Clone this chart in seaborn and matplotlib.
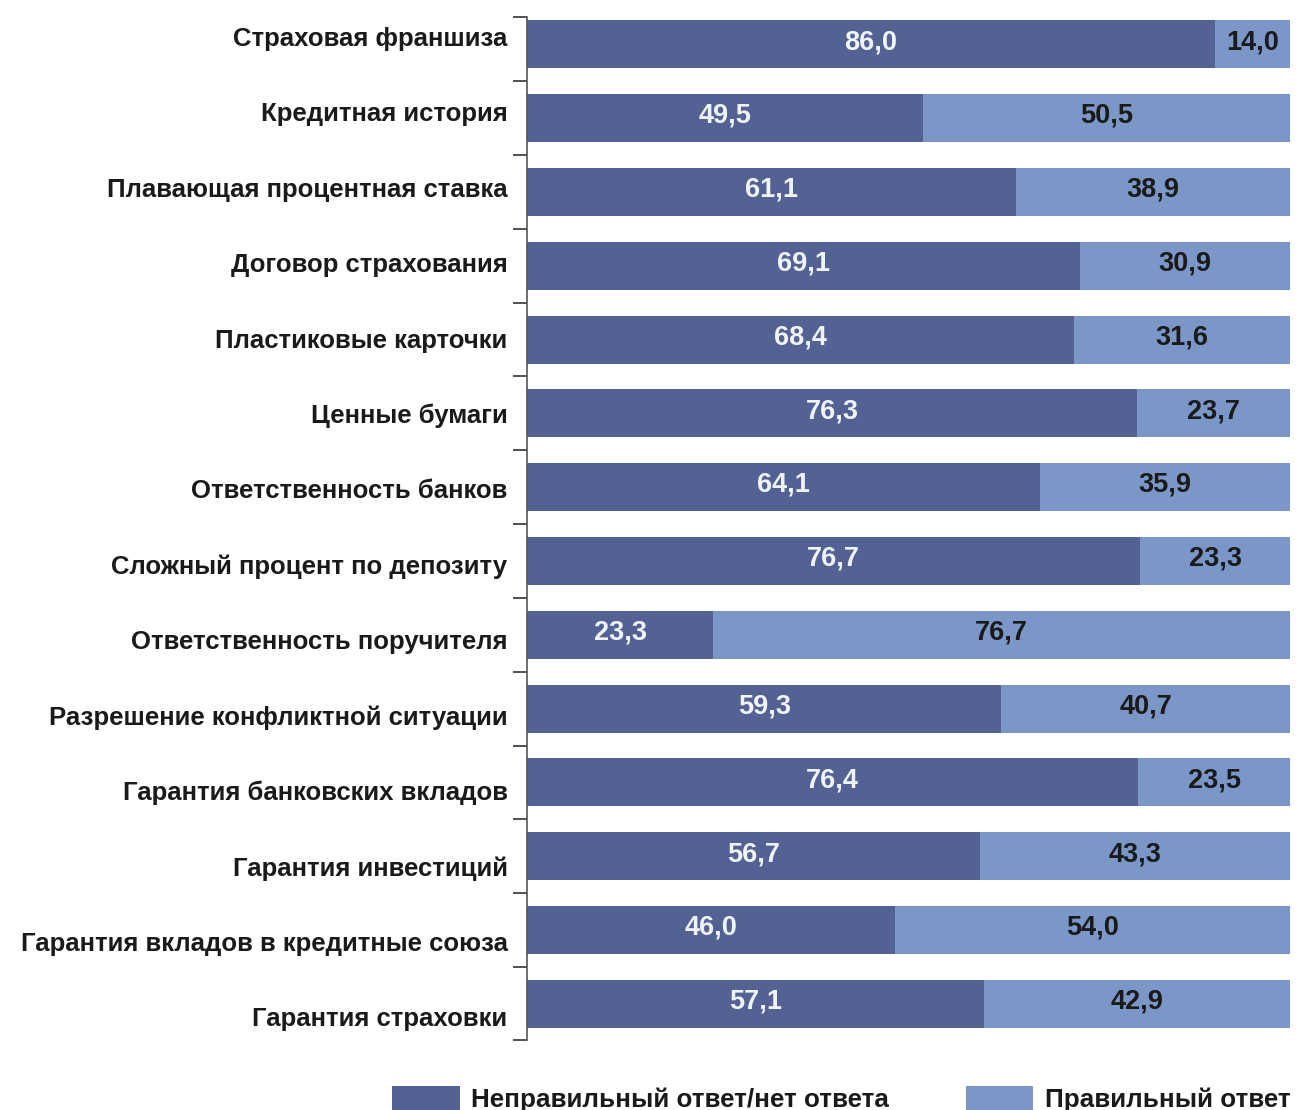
import matplotlib
matplotlib.use("Agg")
import matplotlib.pyplot as plt
import matplotlib.transforms as mtransforms
from matplotlib.patches import Patch
import seaborn as sns
import pandas as pd
import numpy as np

categories = [
    "Страховая франшиза",
    "Кредитная история",
    "Плавающая процентная ставка",
    "Договор страхования",
    "Пластиковые карточки",
    "Ценные бумаги",
    "Ответственность банков",
    "Сложный процент по депозиту",
    "Ответственность поручителя",
    "Разрешение конфликтной ситуации",
    "Гарантия банковских вкладов",
    "Гарантия инвестиций",
    "Гарантия вкладов в кредитные союза",
    "Гарантия страховки",
]
wrong = [86.0, 49.5, 61.1, 69.1, 68.4, 76.3, 64.1, 76.7, 23.3, 59.3, 76.4, 56.7, 46.0, 57.1]
right = [14.0, 50.5, 38.9, 30.9, 31.6, 23.7, 35.9, 23.3, 76.7, 40.7, 23.5, 43.3, 54.0, 42.9]
series_names = ["Неправильный ответ/нет ответа", "Правильный ответ"]

dark = "#536293"
light = "#7b97c7"

sns.set_theme(style="white")
plt.rcParams['font.family'] = ['Liberation Sans', 'DejaVu Sans']

df = pd.DataFrame({"cat": categories, "wrong": wrong, "right": right})
df["total"] = df["wrong"] + df["right"]

fig = plt.figure(figsize=(12.96, 11.10), dpi=100)
ax = fig.add_axes([527/1296, 1-1040/1110, (1290-527)/1296, (1040-17)/1110])

sns.barplot(data=df, y="cat", x="total", color=light, orient="h", width=0.65, ax=ax,
            saturation=1, edgecolor="none")
sns.barplot(data=df, y="cat", x="wrong", color=dark, orient="h", width=0.65, ax=ax,
            saturation=1, edgecolor="none")

xmax = 95.4
ax.set_xlim(0, xmax)
ax.set_ylim(13.49, -0.37)
ax.set_xlabel("")
ax.set_ylabel("")
ax.set_xticks([])
for s in ["top", "right", "bottom"]:
    ax.spines[s].set_visible(False)
ax.spines["left"].set_color("#555555")
ax.spines["left"].set_linewidth(1.2)

n = len(categories)
ax.set_yticks(range(n))
ax.set_yticklabels(categories, fontsize=18.5, fontweight="bold", color="#1a1a1a")
ax.tick_params(axis="y", which="major", length=0, pad=14)
ax.set_yticks([-0.37] + [i + 0.5 for i in range(n - 1)] + [13.49], minor=True)
ax.tick_params(axis="y", which="minor", length=10, width=1.2, color="#333333", direction="out", left=True)

# category labels are spaced slightly wider than the bars in the original
for i, lbl in enumerate(ax.get_yticklabels()):
    dy = (8 - 21 * i / (n - 1)) / 100
    lbl.set_transform(lbl.get_transform() + mtransforms.ScaledTranslation(0, dy, fig.dpi_scale_trans))

for i, (w, r) in enumerate(zip(wrong, right)):
    ax.text(w / 2, i - 0.03, f"{w:.1f}".replace(".", ","), ha="center", va="center",
            fontsize=19.5, fontweight="bold", color="#eef4fa")
    end = min(w + r, xmax)
    ax.text((w + end) / 2, i - 0.03, f"{r:.1f}".replace(".", ","), ha="center", va="center",
            fontsize=19.5, fontweight="bold", color="#1a1a1a")

handles = [Patch(facecolor=dark, edgecolor="none"), Patch(facecolor=light, edgecolor="none")]
leg = fig.legend(handles, series_names, loc="upper left",
                 bbox_to_anchor=(392/1296, 1-1086/1110), ncol=2, frameon=False,
                 handlelength=2.6, handleheight=1.1, handletextpad=0.45,
                 columnspacing=2.95, borderaxespad=0, borderpad=0,
                 prop={"family": ["Liberation Sans Narrow", "Liberation Sans"], "weight": "bold", "size": 18.7})
for t in leg.get_texts():
    t.set_color("#1a1a1a")

fig.savefig("out.png", dpi=100)
